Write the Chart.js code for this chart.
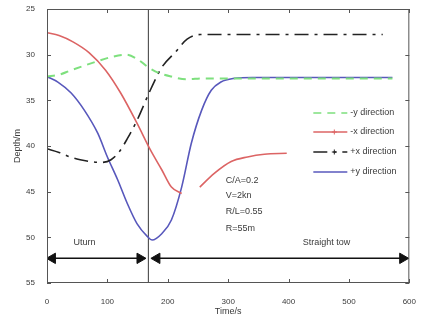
<!DOCTYPE html>
<html><head><meta charset="utf-8">
<script src="https://cdn.jsdelivr.net/npm/chart.js@4/dist/chart.umd.min.js"></script>
<style>html,body{margin:0;padding:0;background:#fff}#wrap{width:422px;height:322px}</style>
</head><body><div id="wrap"><canvas id="c" width="422" height="322"></canvas></div>
<script>
// ---- data ----
const xTicks = [0, 100, 200, 300, 400, 500, 600];
const yTicks = [25, 30, 35, 40, 45, 50, 55];

const negYTime  = [0, 20, 40, 80, 110, 131, 150, 168, 185, 206, 230, 260, 400, 572];
const negYDepth = [32.4, 32.2, 31.7, 30.8, 30.2, 30.0, 30.5, 31.4, 32.0, 32.4, 32.7, 32.6, 32.6, 32.6];

const negXTime  = [0, 20, 43, 70, 97, 122, 149, 171, 190, 206, 223, 236, 253, 277, 305, 332, 360, 397];
const negXDepth = [27.6, 27.9, 28.6, 29.8, 31.7, 34.2, 37.5, 40.4, 42.6, 44.5, 45.2, null, 44.5, 43.0, 41.7, 41.2, 40.9, 40.8];

const posXTime  = [0, 20, 38, 55, 72, 90, 106, 120, 133, 149, 171, 190, 213, 232, 254, 300, 400, 556];
const posXDepth = [40.3, 40.7, 41.2, 41.5, 41.7, 41.8, 41.5, 40.6, 39.2, 37.2, 33.9, 31.4, 29.7, 28.3, 27.8, 27.8, 27.8, 27.8];

const posYTime  = [0, 18, 40, 62, 84, 100, 117, 133, 149, 166, 174, 190, 206, 223, 239, 256, 272, 288, 310, 340, 400, 572];
const posYDepth = [32.4, 33.0, 34.2, 36.1, 38.6, 41.2, 43.7, 46.3, 48.5, 49.9, 50.3, 49.6, 48.1, 44.5, 39.7, 36.1, 33.9, 33.0, 32.6, 32.5, 32.5, 32.5];

const seriesNames = ['-y direction', '-x direction', '+x direction', '+y direction'];

const switchTime = 168;           // vertical divider
const arrowDepth = 52.3;
const uturnArrow = [9, 154];
const straightArrow = [182, 589];
const notes = ['C/A=0.2', 'V=2kn', 'R/L=0.55', 'R=55m'];
const noteDepths = [43.8, 45.4, 47.2, 49.0];
const noteTime = 296;

const zip = (xs, ys) => xs.map((x, i) => ({x: x, y: ys[i]}));

const colors = ['#7ee07e', '#dc6464', '#222222', '#5858bc'];
const dashes = [[8, 6], [], [14, 6, 3, 6], []];

const FONT = '"Liberation Sans", Arial, sans-serif';
const TXT = '#3a3a3a';

const extras = {
  id: 'extras',
  afterDraw(chart) {
    const {ctx, chartArea: a, scales: {x, y}} = chart;
    ctx.save();
    // box
    ctx.strokeStyle = '#555';
    ctx.lineWidth = 1;
    ctx.strokeRect(a.left + 0.5, a.top + 0.5, a.right - a.left - 1, a.bottom - a.top - 1);
    // inward ticks
    ctx.beginPath();
    xTicks.forEach(v => {
      const px = Math.round(x.getPixelForValue(v)) + 0.5;
      ctx.moveTo(px, a.bottom); ctx.lineTo(px, a.bottom - 4);
      ctx.moveTo(px, a.top); ctx.lineTo(px, a.top + 4);
    });
    yTicks.forEach(v => {
      const py = Math.round(y.getPixelForValue(v)) + 0.5;
      ctx.moveTo(a.left, py); ctx.lineTo(a.left + 4, py);
      ctx.moveTo(a.right, py); ctx.lineTo(a.right - 4, py);
    });
    ctx.stroke();
    // annotations
    ctx.fillStyle = TXT;
    ctx.font = '9px ' + FONT;
    ctx.textBaseline = 'middle';
    ctx.textAlign = 'center';
    ctx.fillText('Uturn', x.getPixelForValue(62), y.getPixelForValue(50.6));
    ctx.fillText('Straight tow', x.getPixelForValue(463), y.getPixelForValue(50.6));
    ctx.textAlign = 'left';
    notes.forEach((t, i) => ctx.fillText(t, x.getPixelForValue(noteTime), y.getPixelForValue(noteDepths[i])));
    // legend
    const lx0 = a.right - 96, lx1 = a.right - 62;
    const ly = [113, 132, 152, 172];
    seriesNames.forEach((name, i) => {
      const yy = ly[i];
      ctx.strokeStyle = colors[i];
      ctx.lineWidth = 1.6;
      ctx.setLineDash(dashes[i]);
      ctx.beginPath(); ctx.moveTo(lx0, yy); ctx.lineTo(lx1, yy); ctx.stroke();
      ctx.setLineDash([]);
      if (i === 1 || i === 2) {
        const mx = (lx0 + lx1) / 2 + 4;
        ctx.lineWidth = 1;
        ctx.beginPath(); ctx.moveTo(mx - 2.5, yy); ctx.lineTo(mx + 2.5, yy);
        ctx.moveTo(mx, yy - 2.5); ctx.lineTo(mx, yy + 2.5); ctx.stroke();
      }
      ctx.fillStyle = TXT;
      ctx.fillText(name, lx1 + 3, yy);
    });
    ctx.restore();
  }
};

const base = {fill: false, pointRadius: 0, borderWidth: 1.6, cubicInterpolationMode: 'monotone', spanGaps: false};
const arrowStyle = {borderColor: '#111', borderWidth: 1.5, pointStyle: 'triangle', pointRadius: 6, pointRotation: [-90, 90],
  pointBackgroundColor: '#111', pointBorderColor: '#111', pointBorderWidth: 1, fill: false};

new Chart(document.getElementById('c'), {
  type: 'line',
  data: {
    datasets: [
      Object.assign({}, base, {label: seriesNames[0], data: zip(negYTime, negYDepth), borderColor: colors[0], borderDash: dashes[0], borderWidth: 2}),
      Object.assign({}, base, {label: seriesNames[1], data: zip(negXTime, negXDepth), borderColor: colors[1]}),
      Object.assign({}, base, {label: seriesNames[2], data: zip(posXTime, posXDepth), borderColor: colors[2], borderDash: dashes[2]}),
      Object.assign({}, base, {label: seriesNames[3], data: zip(posYTime, posYDepth), borderColor: colors[3]}),
      {label: 'divider', data: [{x: switchTime, y: 25}, {x: switchTime, y: 55}], borderColor: '#555', borderWidth: 1, pointRadius: 0, fill: false},
      Object.assign({label: 'uturnArrow', data: uturnArrow.map(t => ({x: t, y: arrowDepth}))}, arrowStyle),
      Object.assign({label: 'straightArrow', data: straightArrow.map(t => ({x: t, y: arrowDepth}))}, arrowStyle)
    ]
  },
  options: {
    responsive: false,
    animation: false,
    layout: {padding: {left: 6, right: 8, top: 9, bottom: 4}},
    plugins: {legend: {display: false}, tooltip: {enabled: false}},
    scales: {
      x: {
        type: 'linear', min: 0, max: 600,
        afterBuildTicks(s) { s.ticks = xTicks.map(v => ({value: v})); },
        afterFit(s) { s.height = 35; },
        grid: {display: false}, border: {display: false},
        ticks: {color: TXT, font: {size: 8, family: FONT}, padding: 6, maxRotation: 0},
        title: {display: true, text: 'Time/s', color: TXT, font: {size: 9, family: FONT}, padding: {top: 0, bottom: 1}}
      },
      y: {
        type: 'linear', min: 25, max: 55, reverse: true,
        afterBuildTicks(s) { s.ticks = yTicks.map(v => ({value: v})); },
        afterFit(s) { s.width = 41; },
        grid: {display: false}, border: {display: false},
        ticks: {color: TXT, font: {size: 8, family: FONT}, padding: 4},
        title: {display: true, text: 'Depth/m', color: TXT, font: {size: 9, family: FONT}, padding: {top: 6, bottom: 0}}
      }
    }
  },
  plugins: [extras]
});
</script>
</body></html>
